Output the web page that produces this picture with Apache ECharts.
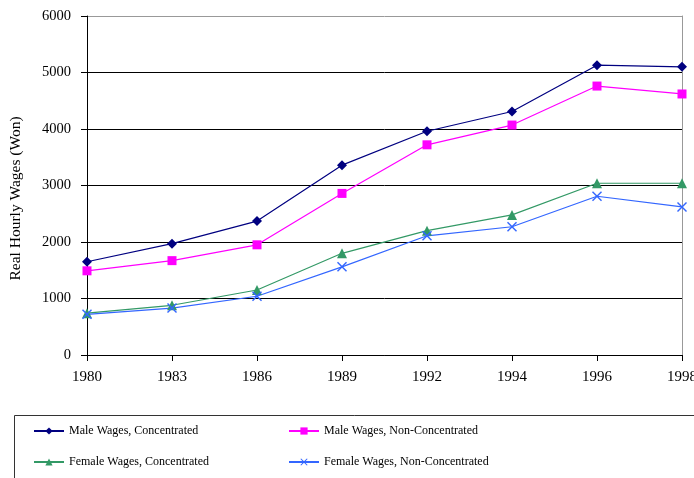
<!DOCTYPE html>
<html>
<head>
<meta charset="utf-8">
<script src="https://cdn.jsdelivr.net/npm/echarts@6/dist/echarts.min.js"></script>
<style>
  html, body { margin: 0; padding: 0; background: #fff; }
  #chart { width: 694px; height: 478px; }
</style>
</head>
<body>
<div id="chart"></div>
<script>
// years on the category axis
const years = ['1980', '1983', '1986', '1989', '1992', '1994', '1996', '1998'];

// real hourly wages (won)
const maleConcentrated = [1650, 1970, 2370, 3360, 3960, 4310, 5130, 5100];
const maleNonConcentrated = [1490, 1670, 1950, 2860, 3720, 4070, 4760, 4620];
const femaleConcentrated = [740, 880, 1150, 1800, 2200, 2480, 3040, 3040];
const femaleNonConcentrated = [720, 830, 1040, 1560, 2110, 2270, 2810, 2620];

const seriesNames = [
  'Male Wages, Concentrated',
  'Male Wages, Non-Concentrated',
  'Female Wages, Concentrated',
  'Female Wages, Non-Concentrated'
];

const font = 'Liberation Serif';
const crossPath = 'path://M0,1L1,0L5,4L9,0L10,1L6,5L10,9L9,10L5,6L1,10L0,9L4,5Z';

const chart = echarts.init(document.getElementById('chart'));

const makeSeries = (name, data, color, symbol, size) => ({
  name: name,
  type: 'line',
  data: data,
  symbol: symbol,
  symbolSize: size,
  showAllSymbol: true,
  itemStyle: { color: color },
  lineStyle: { color: color, width: 1.2 },
  emphasis: { disabled: true }
});

const legendBase = {
  orient: 'vertical',
  padding: 0,
  itemWidth: 30,
  itemHeight: 9,
  itemGap: 19,
  textStyle: { fontFamily: font, fontSize: 12, color: '#000' },
  selectedMode: false
};

const option = {
  animation: false,
  backgroundColor: '#fff',
  grid: { left: 87, right: 12, top: 16, bottom: 123, outerBoundsMode: 'none' },
  xAxis: {
    type: 'category',
    data: years,
    boundaryGap: false,
    axisLine: { lineStyle: { color: '#000', width: 1 } },
    axisTick: { alignWithLabel: true, length: 6, lineStyle: { color: '#000' } },
    axisLabel: { color: '#000', fontFamily: font, fontSize: 15, margin: 15 },
    splitLine: { show: false }
  },
  yAxis: [
    {
      type: 'value',
      min: 0,
      max: 6000,
      interval: 1000,
      name: 'Real Hourly Wages (Won)',
      nameLocation: 'middle',
      nameGap: 63,
      nameTextStyle: { fontFamily: font, fontSize: 15.5, color: '#000', padding: [0, 26, 0, 0] },
      axisLine: { show: true, lineStyle: { color: '#000', width: 1 } },
      axisTick: { show: true, length: 6, lineStyle: { color: '#000' } },
      axisLabel: {
        color: '#000',
        fontFamily: font,
        fontSize: 14.5,
        margin: 16,
        formatter: (v) => String(v)
      },
      splitLine: {
        show: true,
        lineStyle: { color: ['#000', '#000', '#000', '#000', '#000', '#000', '#999'], width: 1 }
      }
    },
    {
      type: 'value',
      min: 0,
      max: 6000,
      position: 'right',
      axisLine: { show: true, lineStyle: { color: '#999', width: 1 } },
      axisTick: { show: false },
      axisLabel: { show: false },
      splitLine: { show: false }
    }
  ],
  legend: [
    Object.assign({}, legendBase, { left: 33, top: 425, data: [seriesNames[0], seriesNames[2]] }),
    Object.assign({}, legendBase, { left: 288, top: 425, data: [seriesNames[1], seriesNames[3]] })
  ],
  graphic: [
    {
      type: 'rect',
      shape: { x: 14.5, y: 415.5, width: 700, height: 80 },
      style: { fill: 'none', stroke: '#333', lineWidth: 1 },
      silent: true
    }
  ],
  series: [
    makeSeries(seriesNames[0], maleConcentrated, '#000080', 'diamond', 10),
    makeSeries(seriesNames[1], maleNonConcentrated, '#FF00FF', 'rect', 9),
    makeSeries(seriesNames[2], femaleConcentrated, '#339966', 'triangle', 10),
    makeSeries(seriesNames[3], femaleNonConcentrated, '#3366FF', crossPath, 10)
  ]
};

chart.setOption(option);
</script>
</body>
</html>
